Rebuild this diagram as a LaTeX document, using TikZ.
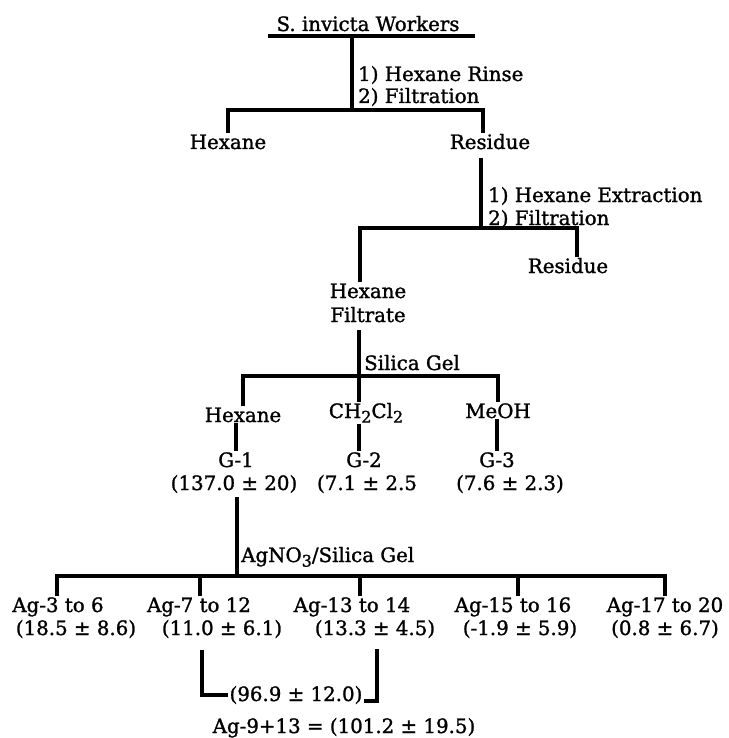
\documentclass[tikz,border=0pt]{standalone}
\usepackage{fontspec}
\setmainfont[FakeBold=1.3]{DejaVu Serif}
\newcommand{\subnum}[1]{\raisebox{-0.45ex}{\fontsize{16}{16}\selectfont #1}}

\begin{document}
\begin{tikzpicture}[x=1pt, y=-1pt,
    bar/.style={line width=4.8pt},
    lbl/.style={anchor=base, inner sep=1pt, font=\fontsize{19.8}{22}\selectfont},
    lft/.style={lbl, anchor=base west}]
    \useasboundingbox (0,0) rectangle (728,738);

    % Operárias
    \node[lbl] (workers) at (368,31) {S. invicta Workers};
    \coordinate (ulL) at (268,36);
    \coordinate (ulR) at (475,36);
    \draw[bar] (ulL) -- (ulR);

    % Lavagem com hexano
    \coordinate (f1) at (352,110);
    \draw[bar] (ulL -| f1) -- (f1);
    \node[lft] (rinse) at (357,81) {1) Hexane Rinse};
    \node[lft] (filtA) at (357,103) {2) Filtration};
    \node[lbl] (hexA) at (228,149) {Hexane};
    \node[lbl] (resA) at (490,149) {Residue};
    \draw[bar] (hexA.north) |- (f1) -| ([xshift=-7pt]resA.north);

    % Extração do resíduo
    \coordinate (f2) at (481,228);
    \draw[bar, shorten <=8pt] (resA.south -| f2) -- (f2);
    \node[lft] (extr) at (487,202) {1) Hexane Extraction};
    \node[lft] (filtB) at (487,225) {2) Filtration};
    \node[lbl] (hexB) at (368,298) {Hexane};
    \node[lbl] (filtr) at (368,322) {Filtrate};
    \node[lbl] (resB) at (568,273) {Residue};
    \draw[bar] ([xshift=-8pt]hexB.north) |- (f2) -| ([xshift=9pt]resB.north);

    % Coluna de sílica
    \coordinate (f3) at (359,376);
    \node[lft] (silica) at (363,370) {Silica Gel};
    \node[lbl] (hexC) at (243,422) {Hexane};
    \node[lbl] (dcm) at (366,418) {CH\subnum{2}Cl\subnum{2}};
    \node[lbl] (meoh) at (498,418) {MeOH};
    \draw[bar, shorten <=7pt] (filtr.south -| f3) -- (dcm.north -| f3);
    \draw[bar] (hexC.north) |- (f3) -| (meoh.north);

    % Frações G
    \node[lbl] (g1) at (236,467) {G-1};
    \node[lbl] (g2) at (364,467) {G-2};
    \node[lbl] (g3) at (497,467) {G-3};
    \draw[bar] (hexC.south -| g1) -- (g1.north);
    \draw[bar] ([xshift=-5pt]dcm.south -| g2) -- ([xshift=-5pt]g2.north);
    \draw[bar] (meoh.south -| g3) -- (g3.north);
    \node[lbl] (g1v) at (234,490) {(137.0 ± 20)};
    \node[lbl] (g2v) at (367,490) {(7.1 ± 2.5};
    \node[lbl] (g3v) at (510,490) {(7.6 ± 2.3)};

    % Coluna de AgNO3
    \coordinate (f5) at (237,576);
    \node[lft] (agsil) at (240,562) {AgNO\subnum{3}/Silica Gel};
    \draw[bar, shorten <=3pt] (g1v.south -| f5) -- (f5);
    \node[lbl] (ag3) at (58,612) {Ag-3 to 6};
    \node[lbl] (ag7) at (199,612) {Ag-7 to 12};
    \node[lbl] (ag13) at (352,612) {Ag-13 to 14};
    \node[lbl] (ag15) at (513,612) {Ag-15 to 16};
    \node[lbl] (ag17) at (665,612) {Ag-17 to 20};
    \draw[bar] ([xshift=-1pt]ag3.north) |- (f5) -| (ag17.north);
    \draw[bar] ([xshift=1pt]ag7.north) -- ([xshift=1pt]ag7.north |- f5);
    \draw[bar] ([xshift=8pt]ag13.north) -- ([xshift=8pt]ag13.north |- f5);
    \draw[bar] ([xshift=5pt]ag15.north) -- ([xshift=5pt]ag15.north |- f5);
    \node[lbl] (ag3v) at (76,635) {(18.5 ± 8.6)};
    \node[lbl] (ag7v) at (222,635) {(11.0 ± 6.1)};
    \node[lbl] (ag13v) at (375,635) {(13.3 ± 4.5)};
    \node[lbl] (ag15v) at (520,635) {(-1.9 ± 5.9)};
    \node[lbl] (ag17v) at (665,635) {(0.8 ± 6.7)};

    % Soma das frações 9 a 13
    \node[lbl] (pool) at (296,701) {(96.9 ± 12.0)};
    \draw[bar, shorten <=11pt] ([xshift=-20pt]ag7v.south) |- (pool.west);
    \draw[bar, shorten <=10pt] ([xshift=2pt]ag13v.south) |- (pool.base east);
    \node[lbl] (sum) at (344,733) {Ag-9+13 = (101.2 ± 19.5)};

\end{tikzpicture}
\end{document}
